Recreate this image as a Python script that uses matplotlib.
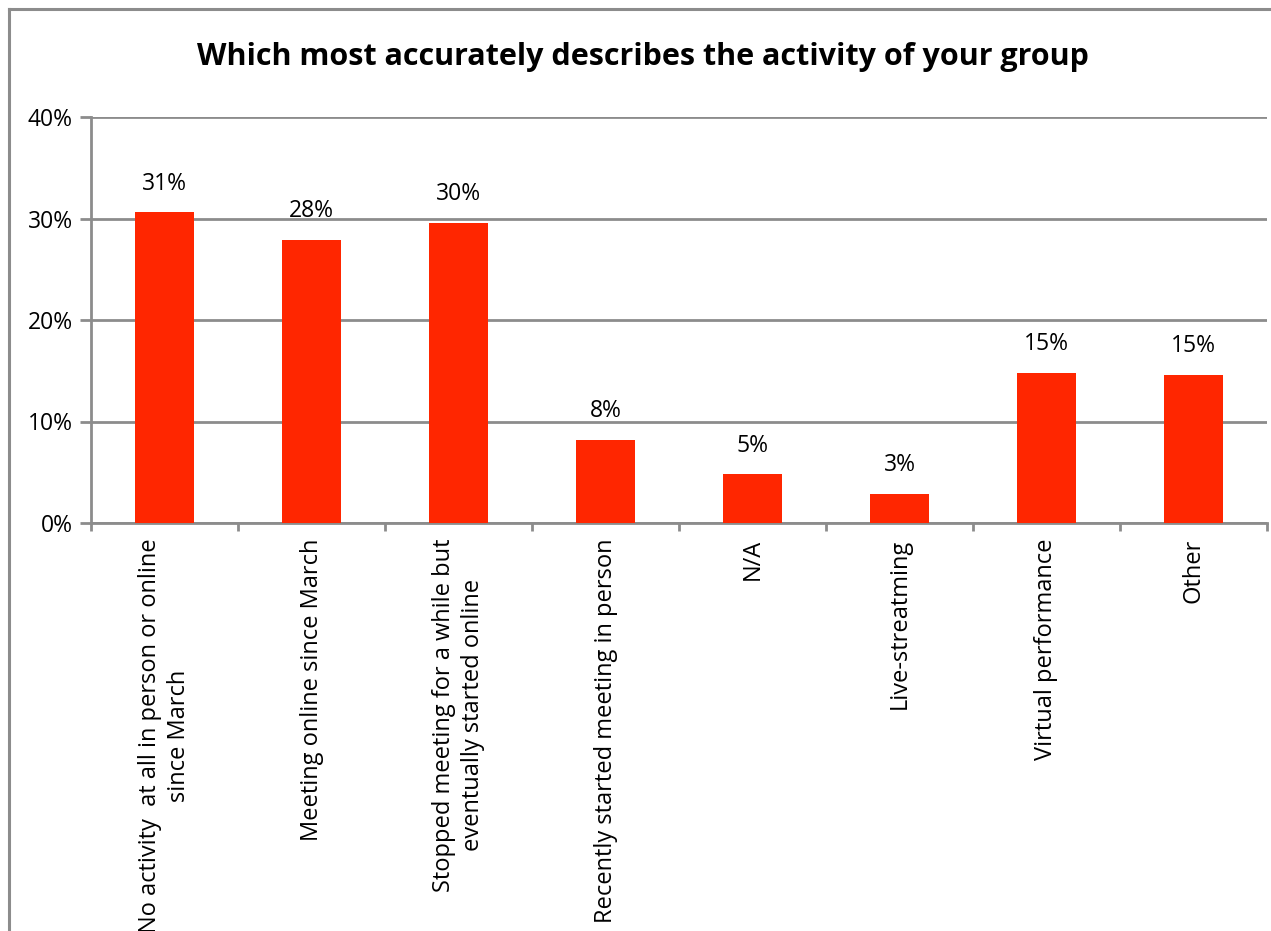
import matplotlib.pyplot as plt
from matplotlib.lines import Line2D

# survey answers (share of groups, %)
categories = ['No activity  at all in person or online\nsince March',
              'Meeting online since March',
              'Stopped meeting for a while but\neventually started online',
              'Recently started meeting in person',
              'N/A',
              'Live-streatming',
              'Virtual performance',
              'Other']
shares = [30.6, 27.9, 29.6, 8.2, 4.8, 2.9, 14.8, 14.6]
yticks = [0, 10, 20, 30, 40]

plt.rcParams['font.family'] = ['Open Sans', 'DejaVu Sans']

W, H = 1271, 931
fig = plt.figure(figsize=(W / 100, H / 100), dpi=100)
ax = fig.add_axes([91 / W, (H - 523) / H, (1267 - 91) / W, (523 - 117) / H])

grid_col = '#8c8c8c'
x = range(len(categories))
ax.bar(x, shares, width=0.4, color='#ff2600', zorder=3)

for i, v in enumerate(shares):
    ax.annotate('{:.0f}%'.format(v), (i, v), xytext=(0, 12), textcoords='offset points',
                ha='center', va='bottom', fontsize=16.5)

ax.set_xlim(-0.5, len(categories) - 0.5)
ax.set_ylim(0, 40)
ax.set_yticks(yticks)
ax.set_yticklabels(['{}%'.format(t) for t in yticks], fontsize=16.5)
ax.yaxis.grid(True, color=grid_col, linewidth=2, zorder=0)

ax.set_xticks(list(x))
ax.set_xticklabels(categories, rotation=90, fontsize=17, multialignment='center',
                   linespacing=1.25)
ax.set_xticks([i + 0.5 for i in range(-1, len(categories))], minor=True)
ax.tick_params(axis='x', which='major', length=0, pad=11)
ax.tick_params(axis='x', which='minor', length=6, width=2, color=grid_col)
ax.tick_params(axis='y', length=8, width=2, color=grid_col, pad=5)

for s in ['top', 'right']:
    ax.spines[s].set_visible(False)
for s in ['left', 'bottom']:
    ax.spines[s].set_color(grid_col)
    ax.spines[s].set_linewidth(2)

fig.text(643 / W, 1 - 57 / H, 'Which most accurately describes the activity of your group',
         ha='center', va='center', fontsize=22, fontweight='bold')

# chart frame (left and top edges)
fig.add_artist(Line2D([8.5 / W, 8.5 / W], [0, 1 - 9 / H], color='#8c8c8c', linewidth=2.2))
fig.add_artist(Line2D([8.5 / W, 1], [1 - 9 / H, 1 - 9 / H], color='#8c8c8c', linewidth=2.2))

fig.savefig('out.png', dpi=100, facecolor='white')
